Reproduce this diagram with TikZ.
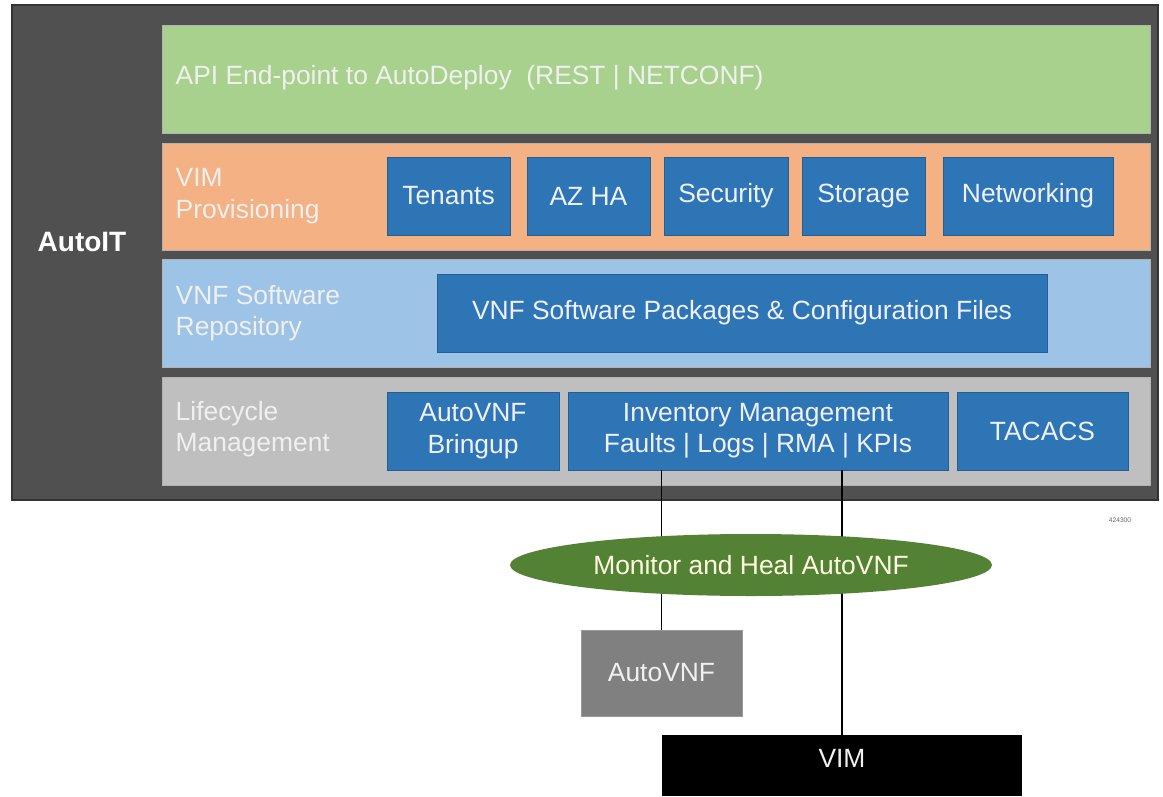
\documentclass[tikz,border=0pt]{standalone}
\usepackage{fontspec}
\setmainfont{Liberation Sans}
\usetikzlibrary{calc,shapes.geometric}
\definecolor{autoitgray}{HTML}{505050}
\definecolor{apigreen}{HTML}{A9D18E}
\definecolor{vimorange}{HTML}{F4B183}
\definecolor{repoblue}{HTML}{9DC3E6}
\definecolor{lifegray}{HTML}{BFBFBF}
\definecolor{boxblue}{HTML}{2E75B6}
\definecolor{healgreen}{HTML}{548235}
\definecolor{avnfgray}{HTML}{808080}
\def\px{0.75pt}
\tikzset{
	band/.style={fill=#1, draw=black!30, line width=0.5pt},
	bandtext/.style={anchor=west, align=left, text=white!94!black},
	bluebox/.style={fill=boxblue, draw=boxblue!80!black, line width=0.4pt, minimum height=78*\px, inner sep=0pt, align=center, text=white!94!blue},
	link/.style={line width=1.4pt, black}
}

\begin{document}
\begin{tikzpicture}[x=0.75pt, y=-0.75pt, font=\fontsize{19.8}{23.5}\selectfont]
			%%%%% START %%%%%
			\useasboundingbox (0, 0) rectangle (1163, 796);
			
			\draw[fill=autoitgray, draw=black!80, line width=1pt] (12, 5) rectangle (1158, 500);
			\node[font=\fontsize{21}{24}\selectfont\bfseries, text=white] (autoit) at (82, 242) {AutoIT};
			
			\draw[band=apigreen] (162, 25) rectangle (1150, 133);
			\draw[band=vimorange] (162, 143) rectangle (1150, 250);
			\draw[band=repoblue] (162, 259) rectangle (1150, 367);
			\draw[band=lifegray] (162, 377) rectangle (1150, 485);
			
			\node[bandtext] (api) at (171, 78) {API End-point to AutoDeploy~ (REST | NETCONF)};
			\node[bandtext] (vimprov) at (171, 196) {VIM\\Provisioning};
			\node[bandtext] (repo) at (171, 313) {VNF Software\\Repository};
			\node[bandtext] (life) at (171, 429) {Lifecycle\\Management};
			
			\node[bluebox, minimum width=123*\px] (tenants) at (448.5, 196) {Tenants};
			\node[bluebox, minimum width=123*\px] (azha) at (588.5, 196) {AZ HA};
			\node[bluebox, minimum width=124*\px] (security) at (726, 196) {Security};
			\node[bluebox, minimum width=123*\px] (storage) at (863.5, 196) {Storage};
			\node[bluebox, minimum width=170*\px] (networking) at (1028, 196) {Networking};
			
			\node[bluebox, minimum width=610*\px] (packages) at (742, 313) {VNF Software Packages \& Configuration Files};
			
			\node[bluebox, minimum width=172*\px] (bringup) at (473, 431) {AutoVNF\\Bringup};
			\node[bluebox, minimum width=380*\px] (inventory) at (758, 431) {Inventory Management\\Faults | Logs | RMA | KPIs};
			\node[bluebox, minimum width=171*\px] (tacacs) at (1042.5, 431) {TACACS};
			
			\node[font=\fontsize{5}{6}\selectfont, text=black!60] (figno) at (1120, 520) {424300};
			
			\node[fill=avnfgray, draw=black!40, minimum width=161*\px, minimum height=86*\px, inner sep=0pt, text=white!94!black] (autovnf) at (661.5, 673) {AutoVNF};
			\node[fill=black, minimum width=360*\px, minimum height=61*\px, inner sep=0pt, text=white!94!black] (vim) at (842, 765.5) {\raisebox{10pt}{VIM}};
			
			\draw[link] (inventory.south -| autovnf.north) -- (autovnf.north);
			\draw[link] (inventory.south -| vim.north) -- (vim.north);
			
			\node[ellipse, fill=healgreen, minimum width=482*\px, minimum height=62*\px, inner sep=0pt, text=white!88!yellow] (heal) at (751, 565) {Monitor and Heal AutoVNF};
			
			%%%%% END %%%%%
\end{tikzpicture}
\end{document}
